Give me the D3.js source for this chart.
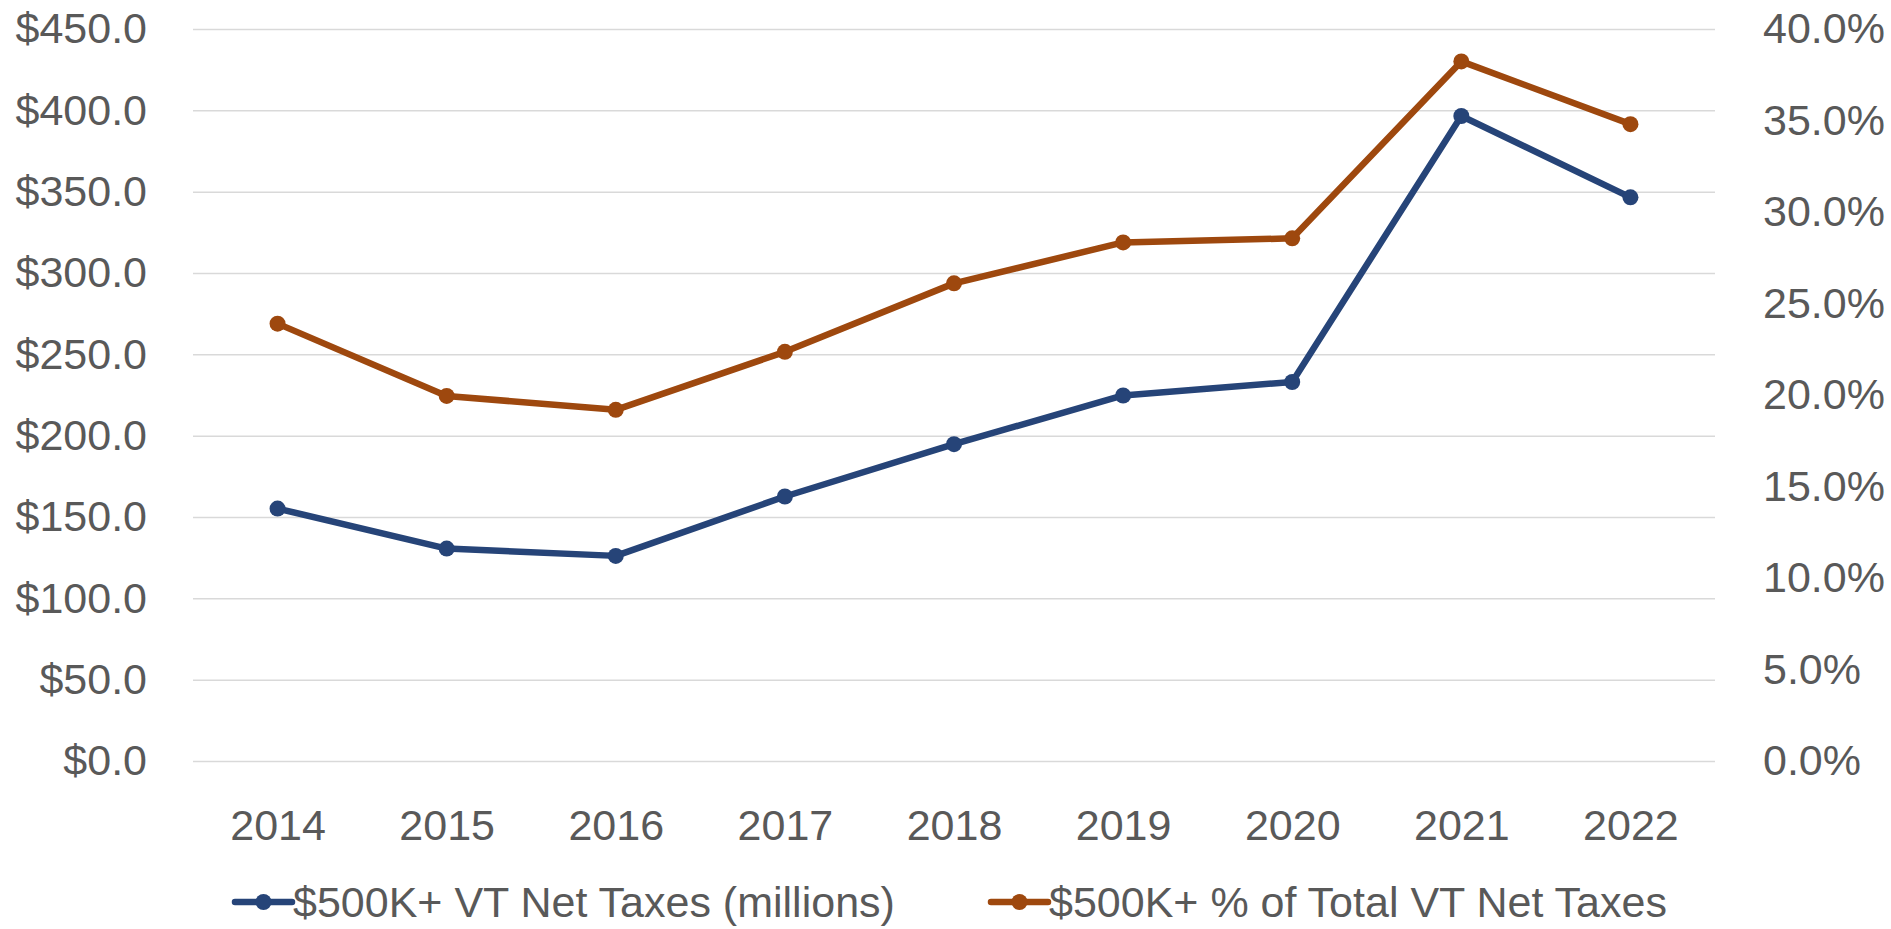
<!DOCTYPE html>
<html>
<head>
<meta charset="utf-8">
<script src="https://cdn.jsdelivr.net/npm/d3@7"></script>
<style>
  body { margin: 0; background: #fff; }
  text { font-family: "Liberation Sans", Arial, sans-serif; fill: #595959; }
  .grid line { stroke: #d9d9d9; stroke-width: 1.5; }
  .grid .domain { display: none; }
</style>
</head>
<body>
<svg id="chart" width="1891" height="929"></svg>
<script>
var years = ["2014", "2015", "2016", "2017", "2018", "2019", "2020", "2021", "2022"];
var netTaxes = [155.2, 130.6, 126.1, 162.6, 194.8, 224.7, 233.0, 396.5, 346.5];
var pctTotal = [0.239, 0.1995, 0.1919, 0.2236, 0.261, 0.2834, 0.2856, 0.3823, 0.348];
var leftTicks = [0, 50, 100, 150, 200, 250, 300, 350, 400, 450];
var rightTicks = [0, 0.05, 0.10, 0.15, 0.20, 0.25, 0.30, 0.35, 0.40];
var seriesNames = ["$500K+ VT Net Taxes (millions)", "$500K+ % of Total VT Net Taxes"];
var colors = ["#264478", "#9e480e"];

var svg = d3.select("#chart"),
    margin = {top: 29, right: 176, bottom: 168, left: 193},
    width = +svg.attr("width") - margin.left - margin.right,
    height = +svg.attr("height") - margin.top - margin.bottom,
    g = svg.append("g").attr("transform", "translate(" + margin.left + "," + margin.top + ")");

var x = d3.scalePoint()
    .domain(years)
    .range([0, width])
    .padding(0.5);

var yLeft = d3.scaleLinear().domain([0, 450]).range([height, 0]);
var yRight = d3.scaleLinear().domain([0, 0.40]).range([height, 0]);

// gridlines
g.append("g")
    .attr("class", "grid")
    .call(d3.axisLeft(yLeft).tickValues(leftTicks).tickSize(-width).tickFormat(""));

// left axis labels
var fs = 43;
g.append("g")
    .call(d3.axisLeft(yLeft).tickValues(leftTicks).tickSize(0).tickPadding(46)
      .tickFormat(d => "$" + d3.format(".1f")(d)))
    .call(a => a.select(".domain").remove())
    .selectAll("text").style("font-size", fs + "px").attr("fill", "#595959");

// right axis labels
g.append("g")
    .attr("transform", "translate(" + width + ",0)")
    .call(d3.axisRight(yRight).tickValues(rightTicks).tickSize(0).tickPadding(48)
      .tickFormat(d3.format(".1%")))
    .call(a => a.select(".domain").remove())
    .selectAll("text").style("font-size", fs + "px").attr("fill", "#595959");

// x axis labels
g.append("g")
    .attr("transform", "translate(0," + height + ")")
    .call(d3.axisBottom(x).tickSize(0).tickPadding(48))
    .call(a => a.select(".domain").remove())
    .selectAll("text").style("font-size", fs + "px").attr("fill", "#595959");

var series = [
  {values: netTaxes, y: yLeft, color: colors[0]},
  {values: pctTotal, y: yRight, color: colors[1]}
];

series.forEach(function(s) {
  var line = d3.line()
      .x((d, i) => x(years[i]))
      .y(d => s.y(d));
  g.append("path")
      .datum(s.values)
      .attr("fill", "none")
      .attr("stroke", s.color)
      .attr("stroke-width", 6.5)
      .attr("stroke-linejoin", "round")
      .attr("d", line);
  g.selectAll(null)
      .data(s.values)
      .enter().append("circle")
      .attr("cx", (d, i) => x(years[i]))
      .attr("cy", d => s.y(d))
      .attr("r", 8)
      .attr("fill", s.color);
});

// legend
var legendX = [235, 991];
var legend = svg.append("g").attr("transform", "translate(0,902)");
seriesNames.forEach(function(name, i) {
  var lg = legend.append("g").attr("transform", "translate(" + legendX[i] + ",0)");
  lg.append("line")
      .attr("x1", 0).attr("x2", 57)
      .attr("stroke", colors[i]).attr("stroke-width", 6.5).attr("stroke-linecap", "round");
  lg.append("circle").attr("cx", 28.5).attr("r", 8).attr("fill", colors[i]);
  lg.append("text")
      .attr("x", 58)
      .attr("dy", "0.36em")
      .style("font-size", fs + "px")
      .text(name);
});
</script>
</body>
</html>
